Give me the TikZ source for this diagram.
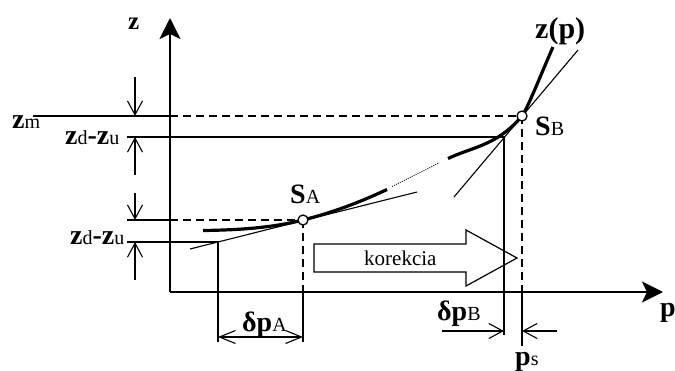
\documentclass[tikz,border=0pt]{standalone}
\usepackage{fontspec}
\setmainfont{Liberation Serif}
\usetikzlibrary{arrows.meta}
\newcommand{\smsub}[1]{{\fontsize{20pt}{20pt}\mdseries\selectfont #1}}
\begin{document}
\begin{tikzpicture}[x=1pt,y=-1pt,
  axisline/.style={line width=2.6pt,-{Stealth[length=21pt,width=21pt,inset=5pt]}},
  thinline/.style={line width=1.1pt},
  dashline/.style={line width=1.3pt,dash pattern=on 8pt off 5pt},
  curveline/.style={line width=3.2pt},
  dotline/.style={line width=0.8pt,dash pattern=on 1pt off 1.2pt},
  dimarrow/.style={line width=1.1pt,-{Straight Barb[length=14pt,width=15pt,line width=1.1pt]}},
  dimboth/.style={line width=1.1pt,{Straight Barb[length=16pt,width=13pt,line width=1.1pt]}-{Straight Barb[length=16pt,width=13pt,line width=1.1pt]}},
  lbl/.style={inner sep=0pt,anchor=base west,font=\fontsize{28pt}{28pt}\selectfont\bfseries},
  pt/.style={circle,draw,fill=white,line width=1.3pt,minimum size=10pt,inner sep=0pt}
]
\useasboundingbox (0,0) rectangle (675,370);
% key coordinates
\coordinate (O) at (170,292);
\coordinate (ztip) at (170,18);
\coordinate (ptip) at (663,292);
\coordinate (SA) at (303,220);
\coordinate (SB) at (522,116);
\coordinate (zmL) at (33,116);
\coordinate (zmA) at (170,116);
\coordinate (zuL) at (127,137);
\coordinate (C) at (504,137);
\coordinate (Cb) at (504,335);
\coordinate (zaL) at (127,220);
\coordinate (zaA) at (170,220);
\coordinate (zbL) at (127,242);
\coordinate (D) at (218,242);
\coordinate (Db) at (218,342);
\coordinate (SAx) at (303,292);
\coordinate (SAb) at (303,342);
\coordinate (SBx) at (522,292);
\coordinate (SBb) at (522,346);
% axes
\draw[axisline] (O) -- (ztip);
\draw[axisline] (O) -- (ptip);
% horizontal reference lines
\draw[thinline] (zmL) -- (zmA);
\draw[dashline] (zmA) -- (SB);
\draw[thinline] (zuL) -- (C) -- (Cb);
\draw[thinline] (zaL) -- (zaA);
\draw[dashline] (zaA) -- (SA);
\draw[thinline] (zbL) -- (D) -- (Db);
% verticals from S_A and S_B
\draw[dashline] (SA) -- (SAx);
\draw[thinline] (SAx) -- (SAb);
\draw[dashline] (SB) -- (SBx);
\draw[thinline] (SBx) -- (SBb);
% left dimension arrows
\coordinate (a1s) at (135,77);  \coordinate (a1e) at (135,116);
\coordinate (a2s) at (135,175); \coordinate (a2e) at (135,137);
\coordinate (a3s) at (135,193); \coordinate (a3e) at (135,220);
\coordinate (a4s) at (135,280); \coordinate (a4e) at (135,242);
\draw[dimarrow] (a1s) -- (a1e);
\draw[dimarrow] (a2s) -- (a2e);
\draw[dimarrow] (a3s) -- (a3e);
\draw[dimarrow] (a4s) -- (a4e);
% bottom dimension arrows
\coordinate (dAl) at (218,337); \coordinate (dAr) at (303,337);
\draw[dimboth] (dAl) -- (dAr);
\coordinate (dBs) at (442,331); \coordinate (dBe) at (504,331);
\draw[dimarrow] (dBs) -- (dBe);
\coordinate (dSs) at (557,331); \coordinate (dSe) at (522,331);
\draw[dimarrow] (dSs) -- (dSe);
% tangents
\coordinate (tA1) at (190,249); \coordinate (tA2) at (417,192);
\draw[thinline] (tA1) -- (tA2);
\coordinate (tB1) at (454,197); \coordinate (tB2) at (578,50);
\draw[thinline] (tB1) -- (tB2);
% curve z(p)
\coordinate (c0) at (203,230.5);
\coordinate (c1) at (387,189.5);
\coordinate (c2) at (392,186.5);
\coordinate (c3) at (439,163);
\coordinate (c4) at (448,158.5);
\coordinate (c5) at (553,47);
\draw[curveline] (c0) .. controls (236,230) and (270,228.3) .. (SA)
  .. controls (331,213) and (359,202.7) .. (c1);
\draw[dotline] (c2) -- (c3);
\draw[curveline] (c4) .. controls (473,146.75) and (497,145.6) .. (SB)
  .. controls (527,110) and (544,67) .. (c5);
% points
\node[pt] (pA) at (SA) {};
\node[pt] (pB) at (SB) {};
% correction block arrow
\draw[line width=1.2pt] (314,244) coordinate (k1) -- (466,244) -- (466,230) -- (517,258) -- (466,286) -- (466,272) -- (314,272) -- cycle;
\node[inner sep=0pt,anchor=base west,font=\fontsize{21pt}{21pt}\selectfont] (kor) at (364,265) {korekcia};
% labels
\node[inner sep=0pt,anchor=base west] (lz) at (128,29) {\fontsize{25pt}{25pt}\selectfont\bfseries z};
\node[lbl] (lp) at (660,316) {p};
\node[lbl,font=\fontsize{30pt}{30pt}\selectfont\bfseries] (lzp) at (535,38) {z(p)};
\node[lbl] (lzm) at (12,128) {z\smsub{m}};
\node[lbl] (lzu1) at (65,144) {z\smsub{d}-z\smsub{u}};
\node[lbl] (lzu2) at (70,244) {z\smsub{d}-z\smsub{u}};
\node[lbl] (lSA) at (290,203) {S\smsub{A}};
\node[lbl] (lSB) at (535,135) {S\smsub{B}};
\node[lbl] (ldA) at (242,331) {δp\smsub{A}};
\node[lbl] (ldB) at (437,320) {δp\smsub{B}};
\node[lbl] (lps) at (515,365) {p\smsub{s}};
\end{tikzpicture}
\end{document}
